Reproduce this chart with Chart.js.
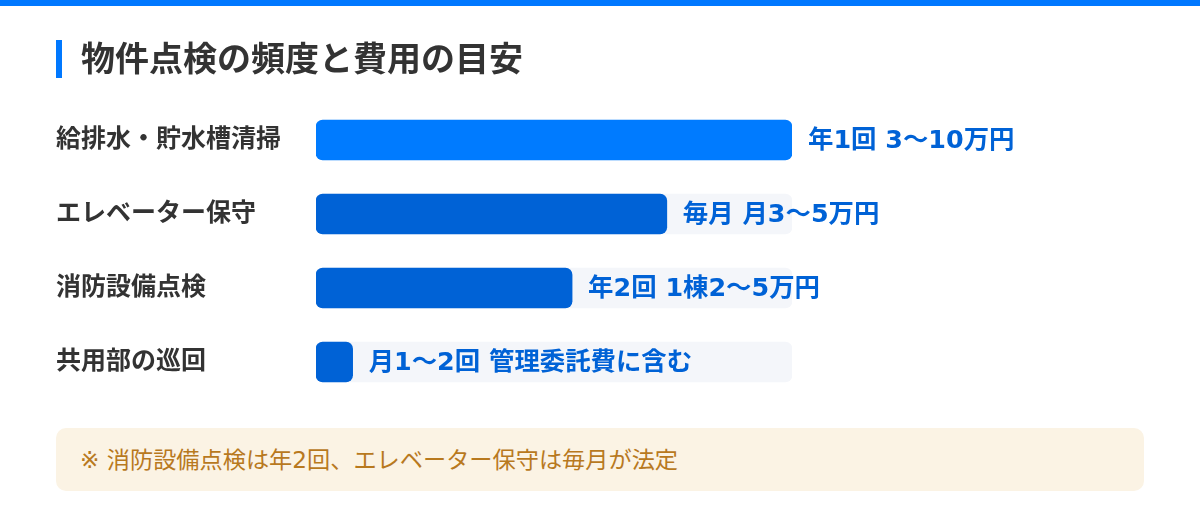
<!DOCTYPE html>
<html lang="ja">
<head>
<meta charset="utf-8">
<script src="https://cdn.jsdelivr.net/npm/chart.js@4"></script>
<style>
  html, body { margin: 0; padding: 0; background: #fff; }
  body { width: 1200px; height: 530px; position: relative; overflow: hidden;
         font-family: "DejaVu Sans", "Noto Sans CJK JP", sans-serif; }
  #topbar { position: absolute; left: 0; top: 0; width: 1200px; height: 6px; background: #0078ff; }
  #title { position: absolute; left: 56px; top: 40px; height: 38px; border-left: 6px solid #0078ff;
           padding-left: 19px; font-size: 34px; font-weight: 700; color: #333; line-height: 38px;
           white-space: nowrap; }
  #chartWrap { position: absolute; left: 0; top: 0; width: 1200px; height: 530px; }
  #note { position: absolute; left: 56px; top: 428px; width: 1088px; height: 63px; box-sizing: border-box;
          background: #fbf3e4; border-radius: 10px; padding-left: 24px; line-height: 63px;
          font-size: 23.2px; color: #b8791e; white-space: nowrap; }
</style>
</head>
<body>
<div id="topbar"></div>
<div id="chartWrap"><canvas id="c" width="1200" height="530"></canvas></div>
<div id="title"></div>
<div id="note"></div>
<script>
const chartTitle = "物件点検の頻度と費用の目安";
const categories = ["給排水・貯水槽清掃", "エレベーター保守", "消防設備点検", "共用部の巡回"];
const values = [100, 73.7, 53.8, 7.7];
const trackValues = [100, 100, 100, 100];
const valueLabels = ["年1回 3〜10万円", "毎月 月3〜5万円", "年2回 1棟2〜5万円", "月1〜2回 管理委託費に含む"];
const barColors = ["#007bff", "#0062d6", "#0062d6", "#0062d6"];
const noteText = "※ 消防設備点検は年2回、エレベーター保守は毎月が法定";

document.getElementById("title").textContent = chartTitle;
document.getElementById("note").textContent = noteText;

const FONT = '"DejaVu Sans", "Noto Sans CJK JP", sans-serif';

const valueLabelPlugin = {
  id: "valueLabels",
  afterDatasetsDraw(chart) {
    const meta = chart.getDatasetMeta(1);
    const ctx = chart.ctx;
    ctx.save();
    ctx.font = "700 25.4px " + FONT;
    ctx.fillStyle = "#0062d6";
    ctx.textAlign = "left";
    ctx.textBaseline = "middle";
    meta.data.forEach((el, i) => {
      ctx.fillText(valueLabels[i], el.x + 16, el.y + 1);
    });
    ctx.restore();
  }
};

new Chart(document.getElementById("c"), {
  type: "bar",
  data: {
    labels: categories,
    datasets: [
      {
        data: trackValues,
        backgroundColor: "#f4f6fa",
        borderRadius: 7,
        borderSkipped: false,
        barThickness: 40,
        grouped: false,
        order: 2
      },
      {
        data: values,
        backgroundColor: barColors,
        borderRadius: 7,
        borderSkipped: false,
        barThickness: 40,
        grouped: false,
        order: 1
      }
    ]
  },
  options: {
    indexAxis: "y",
    responsive: false,
    animation: false,
    devicePixelRatio: 1,
    layout: { padding: { left: 56, top: 103, bottom: 131, right: 408 } },
    plugins: { legend: { display: false }, tooltip: { enabled: false }, title: { display: false } },
    scales: {
      x: { display: false, min: 0, max: 100 },
      y: {
        grid: { display: false },
        border: { display: false },
        ticks: {
          crossAlign: "far",
          padding: 0,
          color: "#333",
          font: { family: FONT, size: 25, weight: "700" }
        },
        afterFit(scale) { scale.width = 260; }
      }
    }
  },
  plugins: [valueLabelPlugin]
});
</script>
</body>
</html>
